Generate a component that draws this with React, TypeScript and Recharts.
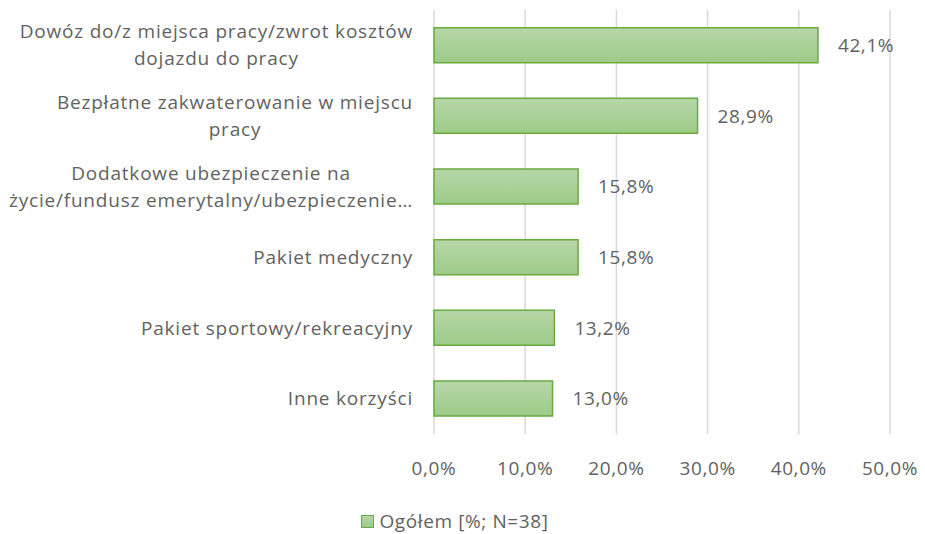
import { BarChart, Bar, XAxis, YAxis, CartesianGrid, Legend, LabelList } from "recharts";

const categories = [
  ["Dowóz do/z miejsca pracy/zwrot kosztów", "dojazdu do pracy"],
  ["Bezpłatne zakwaterowanie w miejscu", "pracy"],
  ["Dodatkowe ubezpieczenie na", "życie/fundusz emerytalny/ubezpieczenie…"],
  ["Pakiet medyczny"],
  ["Pakiet sportowy/rekreacyjny"],
  ["Inne korzyści"],
];
const values = [42.1, 28.9, 15.8, 15.8, 13.2, 13.0];
const xTicks = [0, 10, 20, 30, 40, 50];
const seriesName = "Ogółem [%; N=38]";

const chartData = categories.map((lines, i) => ({
  name: lines.join(" "),
  lines,
  value: values[i],
}));

const FONT = "'Open Sans', sans-serif";
const GRAY = "#626262";
const FS = 19;
const LS = 0.8;

let ctx: CanvasRenderingContext2D | null = null;
function measure(text: string) {
  if (!ctx) ctx = document.createElement("canvas").getContext("2d");
  const base = ctx ? (ctx.font = `${FS}px 'Open Sans'`, ctx.measureText(text).width) : text.length * FS * 0.5;
  return base + text.length * LS;
}

const pct = (v: number) => `${v.toFixed(1).replace(".", ",")}%`;

function CategoryTick(props: any) {
  const { x, y, payload } = props;
  const item = chartData.find((d) => d.name === payload.value);
  const lines = item ? item.lines : [payload.value];
  const w = Math.max(...lines.map(measure));
  const cx = x - 13 - w / 2;
  const lh = 27;
  const y0 = y - ((lines.length - 1) * lh) / 2;
  return (
    <text textAnchor="middle" fill={GRAY} fontSize={FS} fontFamily={FONT} letterSpacing={LS}>
      {lines.map((l: string, i: number) => (
        <tspan key={i} x={cx} y={y0 + i * lh} dy="0.35em">
          {l}
        </tspan>
      ))}
    </text>
  );
}

function LegendContent() {
  return (
    <div style={{ display: "flex", justifyContent: "center", alignItems: "center", fontFamily: FONT, fontSize: FS, color: GRAY, letterSpacing: 0.6, paddingLeft: 20, paddingTop: 12 }}>
      <span style={{ width: 11, height: 11, background: "linear-gradient(#b5d6a5, #9ccb86)", border: "1px solid #6aaa3f", marginRight: 5 }} />
      <span>{seriesName}</span>
    </div>
  );
}

export default function App() {
  return (
    <div style={{ position: "absolute", left: 0, top: 0, background: "#fff" }}>
      <BarChart
        width={925}
        height={534}
        data={chartData}
        layout="vertical"
        margin={{ top: 10, right: 35, bottom: 0, left: 0 }}
        barCategoryGap="25%"
      >
        <defs>
          <linearGradient id="barGrad" x1="0" y1="0" x2="0" y2="1">
            <stop offset="0%" stopColor="#b7d7a8" />
            <stop offset="100%" stopColor="#9dcb88" />
          </linearGradient>
        </defs>
        <CartesianGrid horizontal={false} stroke="#d9d9d9" strokeWidth={1.5} />
        <XAxis
          type="number"
          domain={[0, 50]}
          ticks={xTicks}
          tickFormatter={pct}
          axisLine={false}
          tickLine={false}
          height={62}
          tick={{ fill: GRAY, fontSize: FS, fontFamily: FONT, letterSpacing: 0.6, dy: 20 }}
        />
        <YAxis
          type="category"
          dataKey="name"
          width={434}
          axisLine={false}
          tickLine={false}
          tick={<CategoryTick />}
          interval={0}
        />
        <Legend verticalAlign="bottom" height={38} content={<LegendContent />} />
        <Bar dataKey="value" name={seriesName} fill="url(#barGrad)" stroke="#6aaa3f" strokeWidth={1.5} isAnimationActive={false}>
          <LabelList dataKey="value" position="right" offset={20} formatter={(v: any) => pct(Number(v))} fill={GRAY} fontSize={FS} fontFamily={FONT} letterSpacing={0.6} />
        </Bar>
      </BarChart>
    </div>
  );
}
